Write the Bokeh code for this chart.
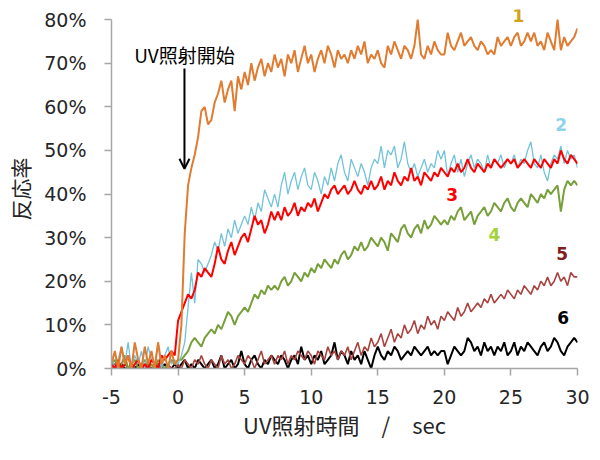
from bokeh.plotting import figure
from bokeh.models import (Range1d, FixedTicker, NumeralTickFormatter, Label,
                          Arrow, OpenHead, ColumnDataSource)
from bokeh.embed import file_html
from bokeh.resources import INLINE

# ---------------- data (percent values, sampled every 0.25 s from -5 s to 30 s)
time_s = [round(-5 + 0.25 * i, 2) for i in range(141)]

series1 = [1, 4, 0, 5, 1, 3, 0, 6, 2, 0, 5, 1, 4, 0, 6, 1, 3, 0, 4, 1,
           2, 10, 31, 42, 46, 49, 53, 59, 60, 56,
           57, 61, 63, 66, 61, 64, 66, 59, 67, 64,
           68, 65, 70, 66, 69, 71, 67, 70, 68, 72,
           69, 71, 67, 72, 70, 73, 68, 71, 74, 70,
           72, 68, 71, 73, 70, 74, 72, 69, 73, 71,
           72, 70, 73, 71, 74, 72, 75, 70, 72, 71,
           73, 70, 69, 74, 72, 75, 73, 71, 74, 73,
           71, 74, 80, 72, 71, 74, 72, 75, 73, 72,
           72, 77, 74, 73, 75, 77, 74, 75, 76, 74,
           73, 75, 74, 72, 73, 72, 76, 74, 75, 76,
           74, 76, 77, 74, 75, 77, 75, 77, 74, 75,
           73, 77, 75, 73, 80, 73, 76, 74, 75, 76,
           78]

series2 = [3, 0, 2, 5, 1, 6, 0, 3, 1, 4, 0, 5, 2, 1, 6, 0, 3, 5, 1, 2,
           1, 3, 6, 14, 22, 15, 25, 24, 22, 24,
           26, 29, 27, 31, 28, 32, 30, 34, 31, 33,
           35, 33, 37, 34, 38, 36, 41, 39, 37, 40,
           37, 42, 45, 40, 43, 45, 41, 44, 46, 42,
           41, 45, 43, 40, 44, 42, 46, 43, 47, 49,
           45, 43, 48, 46, 44, 47, 45, 42, 46, 48,
           47, 51, 46, 50, 49, 51, 46, 48, 52, 47,
           45, 47, 44, 46, 48, 45, 47, 46, 50, 48,
           50, 44, 47, 49, 45, 48, 44, 47, 49, 46,
           48, 47, 45, 49, 46, 48, 47, 49, 46, 48,
           47, 49, 46, 48, 47, 50, 52, 47, 46, 49,
           45, 43, 47, 49, 48, 51, 47, 50, 48, 49,
           46]

series3 = [1, 0, 2, 0, 1, 3, 0, 1, 2, 0, 1, 0, 2, 1, 0, 3, 2, 3, 4, 3,
           11, 13, 15, 17, 16, 18, 22, 21, 23, 22,
           21, 24, 28, 25, 24, 27, 29, 26, 28, 30,
           31, 29, 32, 35, 33, 34, 31, 33, 36, 34,
           36, 34, 37, 35, 36, 38, 35, 37, 36, 38,
           37, 39, 36, 38, 40, 39, 41, 42, 40, 41,
           42, 40, 41, 43, 41, 40, 42, 41, 43, 41,
           42, 44, 41, 43, 42, 45, 43, 42, 44, 43,
           46, 43, 44, 42, 45, 44, 43, 45, 44, 46,
           45, 44, 46, 45, 47, 45, 46, 48, 46, 45,
           47, 46, 45, 47, 46, 48, 47, 46, 47, 48,
           47, 48, 46, 47, 48, 47, 46, 48, 47, 46,
           48, 47, 46, 48, 47, 50, 48, 47, 49, 48,
           47]

series4 = [1, 2, 0, 1, 3, 0, 1, 2, 0, 1, 2, 0, 1, 0, 2, 1, 0, 1, 2, 1,
           2, 2, 3, 4, 6, 7, 6, 5, 7, 8,
           9, 8, 10, 9, 11, 13, 12, 10, 12, 13,
           14, 13, 15, 17, 16, 18, 17, 19, 18, 19,
           18, 20, 21, 19, 20, 22, 21, 20, 22, 21,
           23, 22, 24, 23, 25, 24, 23, 25, 24, 26,
           27, 25, 26, 28, 27, 29, 27, 28, 30, 29,
           28, 30, 29, 27, 31, 30, 29, 32, 33, 31,
           30, 32, 33, 31, 34, 32, 33, 35, 34, 33,
           34, 33, 35, 34, 36, 37, 34, 35, 36, 33,
           35, 36, 37, 35, 36, 38, 37, 36, 38, 39,
           37, 36, 38, 39, 38, 37, 40, 39, 38, 40,
           39, 41, 40, 41, 42, 36, 41, 43, 42, 43,
           42]

series5 = [0, 1, 0, 0, 1, 0, 1, 0, 0, 1, 0, 1, 0, 0, 1, 0, 0, 1, 0, 0,
           1, 0, 2, 1, 0, 2, 1, 3, 1, 0,
           2, 1, 0, 3, 1, 2, 0, 1, 3, 2,
           1, 3, 2, 0, 2, 4, 1, 2, 3, 1,
           3, 2, 4, 1, 3, 2, 4, 3, 2, 4,
           3, 1, 4, 3, 2, 5, 3, 4, 2, 4,
           3, 5, 2, 4, 6, 3, 5, 4, 7, 5,
           6, 8, 5, 7, 9, 6, 8, 7, 10, 8,
           9, 11, 8, 10, 9, 12, 10, 11, 9, 12,
           11, 13, 12, 11, 14, 12, 13, 15, 13, 14,
           15, 14, 16, 15, 17, 15, 16, 17, 16, 18,
           17, 16, 18, 17, 19, 18, 17, 19, 18, 20,
           19, 21, 19, 20, 22, 20, 21, 19, 22, 21,
           21]

series6 = [0, 1, 0, 1, 0, 0, 1, 0, 1, 0, 0, 1, 0, 0, 1, 0, 1, 0, 0, 1,
           0, 1, 2, 0, 1, 0, 2, 1, 0, 1,
           2, 0, 1, 3, 0, 1, 2, 0, 1, 4,
           1, 0, 2, 3, 1, 0, 2, 1, 3, 2,
           1, 3, 2, 0, 2, 3, 1, 5, 2, 3,
           1, 3, 2, 4, 1, 2, 3, 6, 2, 4,
           3, 1, 4, 2, 3, 1, 4, 2, 0, 3,
           5, 3, 2, 4, 3, 5, 4, 2, 3, 4,
           3, 5, 4, 3, 4, 5, 3, 4, 3, 4,
           4, 1, 3, 5, 4, 3, 4, 7, 6, 4,
           5, 3, 6, 4, 5, 3, 5, 4, 6, 3,
           4, 6, 3, 5, 4, 6, 5, 4, 3, 5,
           6, 4, 5, 7, 6, 4, 3, 5, 6, 7,
           6]

series_names = ["1", "2", "3", "4", "5", "6"]
x_ticks = [-5, 0, 5, 10, 15, 20, 25, 30]
x_tick_labels = ["-5", "0", "5", "10", "15", "20", "25", "30"]
y_ticks = [0, 0.1, 0.2, 0.3, 0.4, 0.5, 0.6, 0.7, 0.8]

# ---------------- figure
p = figure(width=600, height=460, output_backend="svg", toolbar_location=None,
           x_range=Range1d(-5, 30), y_range=Range1d(0, 0.8232),
           min_border_left=111, min_border_right=23,
           min_border_top=9, min_border_bottom=92)
p.outline_line_color = None
p.xgrid.grid_line_color = None
p.ygrid.grid_line_color = None
p.background_fill_color = "white"
p.border_fill_color = "white"

axis_gray = "#A6A6A6"
for ax in (p.xaxis[0], p.yaxis[0]):
    ax.axis_line_color = axis_gray
    ax.axis_line_width = 1.5
    ax.major_tick_line_color = axis_gray
    ax.major_tick_line_width = 1.5
    ax.major_tick_out = 7
    ax.major_tick_in = 0
    ax.minor_tick_line_color = None
    ax.major_label_text_font = "DejaVu Sans"
    ax.major_label_text_font_size = "19px"
    ax.major_label_text_color = "#262626"
    ax.axis_label_text_font = "Noto Sans CJK JP"
    ax.axis_label_text_font_style = "normal"
    ax.axis_label_text_color = "#262626"

p.xaxis.ticker = FixedTicker(ticks=x_ticks)
p.xaxis.major_label_overrides = {t: s for t, s in zip(x_ticks, x_tick_labels)}
p.yaxis.ticker = FixedTicker(ticks=y_ticks)
p.yaxis.formatter = NumeralTickFormatter(format="0%")
p.yaxis.bounds = (0, 0.8)
p.xaxis.major_label_standoff = 14
p.yaxis.major_label_standoff = 18
p.xaxis.axis_label = "UV照射時間　/　sec"
p.yaxis.axis_label = "反応率"
p.xaxis.axis_label_text_font_size = "22px"
p.yaxis.axis_label_text_font_size = "21px"
p.xaxis.axis_label_standoff = 1
p.yaxis.axis_label_standoff = 6

def frac(vals):
    return [v / 100 for v in vals]

styles = [
    (series6, "#000000", 2.0),
    (series5, "#A8443F", 1.6),
    (series4, "#77A03B", 2.0),
    (series2, "#72C2DA", 1.3),
    (series3, "#FF0000", 2.0),
    (series1, "#E07B30", 2.0),
]
for vals, color, lw in styles:
    src = ColumnDataSource(dict(t=time_s, v=frac(vals)))
    p.line("t", "v", source=src, line_color=color, line_width=lw)

# series number labels
label_specs = [
    ("1", 25.57, 0.809, "#D4A017"),
    ("2", 28.77, 0.559, "#8FD3E8"),
    ("3", 20.59, 0.399, "#FF0000"),
    ("4", 23.76, 0.307, "#A2D33A"),
    ("5", 28.85, 0.264, "#7F1E1E"),
    ("6", 28.93, 0.117, "#000000"),
]
for txt, lx, ly, col in label_specs:
    p.add_layout(Label(x=lx, y=ly, text=txt, text_color=col,
                       text_font="DejaVu Sans", text_font_style="bold",
                       text_font_size="17px", text_align="center",
                       text_baseline="middle"))

# UV start annotation
p.add_layout(Label(x=0.48, y=0.72, text="UV照射開始", text_color="#000000",
                   text_font="Noto Sans CJK JP", text_font_size="19px",
                   text_align="center", text_baseline="middle"))
p.add_layout(Arrow(end=OpenHead(size=10, line_width=2, line_color="black"),
                   x_start=0.48, y_start=0.688, x_end=0.48, y_end=0.458,
                   line_width=2, line_color="black"))

open("out.html", "w").write(file_html(p, INLINE))
